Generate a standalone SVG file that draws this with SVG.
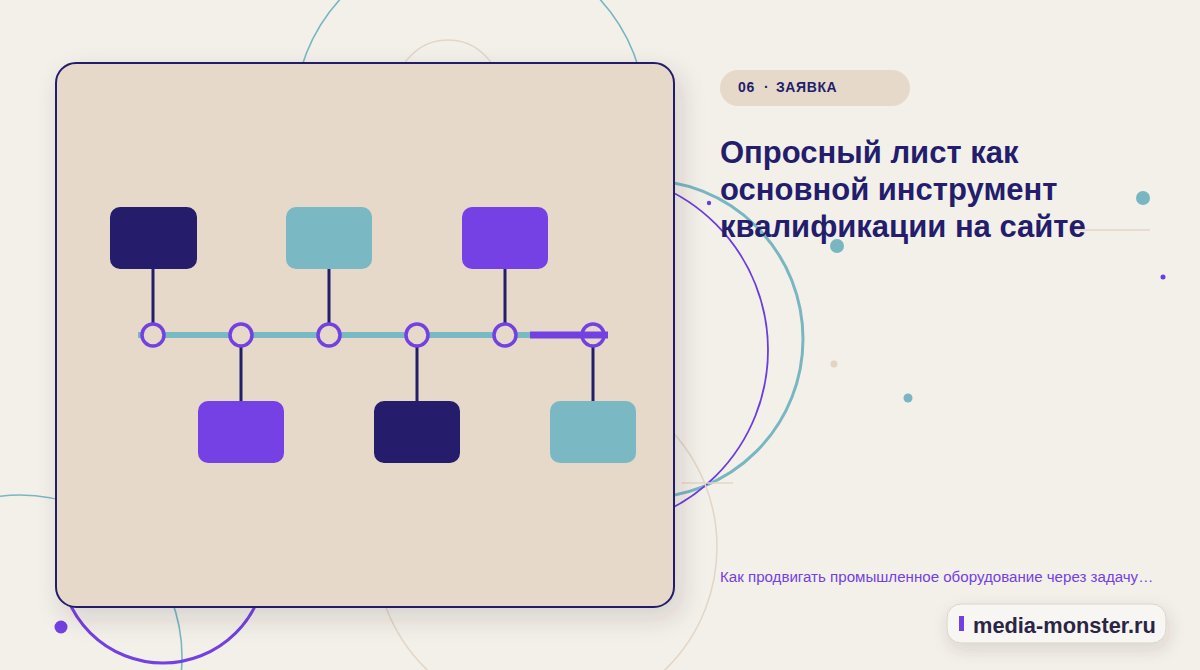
<svg xmlns="http://www.w3.org/2000/svg" width="1200" height="670" viewBox="0 0 1200 670">
  <defs>
    <filter id="cardShadow" x="-10%" y="-10%" width="130%" height="130%">
      <feDropShadow dx="6" dy="10" stdDeviation="12" flood-color="#3a3020" flood-opacity="0.16"/>
    </filter>
    <filter id="pillShadow" x="-20%" y="-40%" width="140%" height="200%">
      <feDropShadow dx="2" dy="6" stdDeviation="8" flood-color="#3a3020" flood-opacity="0.14"/>
    </filter>
    <style>
      .deco { fill: none; }
      .teal-thin { stroke: #78b7c2; stroke-width: 1.6; }
      .teal-thick { stroke: #78b7c2; stroke-width: 3; }
      .purple-thin { stroke: #6b3ce0; stroke-width: 1.8; }
      .purple-thick { stroke: #7340e2; stroke-width: 3; }
      .beige { stroke: #e3d6c6; stroke-width: 1.6; }
      .box { stroke: none; }
      .navy { fill: #251d6b; }
      .teal { fill: #7ab8c4; }
      .violet { fill: #7540e4; }
      .conn { stroke: #251d6b; stroke-width: 3; fill: none; }
      .ring { fill: #e6d9ca; stroke: #7340e2; stroke-width: 3.5; }
      .sans { font-family: "Liberation Sans", Arial, sans-serif; }
    </style>
  </defs>

  <rect width="1200" height="670" fill="#f3f0ea"/>

  <!-- decorative background -->
  <g id="decor">
    <circle class="deco teal-thin" cx="470" cy="118" r="176"/>
    <circle class="deco beige" cx="448" cy="92" r="52"/>
    <circle class="deco teal-thick" cx="644" cy="339" r="159"/>
    <circle class="deco purple-thin" cx="590" cy="350" r="178"/>
    <circle class="deco beige" cx="546" cy="547" r="171"/>
    <line class="beige" x1="682" y1="483" x2="733" y2="483" stroke-width="2"/>
    <line class="beige" x1="1072" y1="230" x2="1150" y2="230" stroke-width="2"/>
    <circle class="deco teal-thin" cx="20" cy="657" r="162"/>
    <circle class="deco purple-thick" cx="163" cy="560" r="103"/>
    <circle cx="709" cy="203" r="2.2" fill="#6b3ce0"/>
    <circle cx="1143" cy="198" r="7" fill="#78b7c2"/>
    <circle cx="837" cy="246" r="7" fill="#78b7c2"/>
    <circle cx="1163" cy="277" r="2.5" fill="#6b3ce0"/>
    <circle cx="834" cy="364" r="3.5" fill="#e3d3c0"/>
    <circle cx="908" cy="398" r="4.5" fill="#78b7c2"/>
    <circle cx="61" cy="627" r="6.5" fill="#7340e2"/>
  </g>

  <!-- card -->
  <g id="card">
    <rect x="56" y="63" width="618" height="544" rx="20" fill="#e6d9ca" stroke="#231d6b" stroke-width="2" filter="url(#cardShadow)"/>
  </g>

  <!-- connectors -->
  <g id="connectors">
    <line x1="138" y1="335" x2="530" y2="335" stroke="#7ab8c4" stroke-width="6"/>
    <line class="conn" x1="153" y1="269" x2="153" y2="323"/>
    <line class="conn" x1="329" y1="269" x2="329" y2="323"/>
    <line class="conn" x1="505" y1="269" x2="505" y2="323"/>
    <line class="conn" x1="241" y1="347" x2="241" y2="401"/>
    <line class="conn" x1="417" y1="347" x2="417" y2="401"/>
    <line class="conn" x1="593" y1="347" x2="593" y2="401"/>
  </g>

  <!-- timeline points -->
  <g id="point-1"><circle class="ring" cx="153" cy="335" r="11"/></g>
  <g id="point-2"><circle class="ring" cx="241" cy="335" r="11"/></g>
  <g id="point-3"><circle class="ring" cx="329" cy="335" r="11"/></g>
  <g id="point-4"><circle class="ring" cx="417" cy="335" r="11"/></g>
  <g id="point-5"><circle class="ring" cx="505" cy="335" r="11"/></g>
  <g id="point-6"><circle class="ring" cx="593" cy="335" r="11"/></g>
  <g id="progress">
    <line x1="530" y1="335" x2="608" y2="335" stroke="#7340e2" stroke-width="7"/>
  </g>

  <!-- boxes -->
  <g id="box-1"><rect class="box navy" x="110" y="207" width="87" height="62" rx="10"/></g>
  <g id="box-2"><rect class="box violet" x="198" y="401" width="86" height="62" rx="10"/></g>
  <g id="box-3"><rect class="box teal" x="286" y="207" width="86" height="62" rx="10"/></g>
  <g id="box-4"><rect class="box navy" x="374" y="401" width="86" height="62" rx="10"/></g>
  <g id="box-5"><rect class="box violet" x="462" y="207" width="86" height="62" rx="10"/></g>
  <g id="box-6"><rect class="box teal" x="550" y="401" width="86" height="62" rx="10"/></g>

  <!-- tag pill -->
  <g id="tag">
    <rect x="720" y="70" width="190" height="36" rx="18" fill="#e6d9ca"/>
    <text class="sans" y="92" font-size="14" font-weight="bold" fill="#231d6b" letter-spacing="0.6"><tspan x="738">06</tspan><tspan x="764">·</tspan><tspan x="776">ЗАЯВКА</tspan></text>
  </g>

  <!-- title -->
  <g id="title">
    <text class="sans" font-size="31" font-weight="bold" fill="#231d6b">
      <tspan x="720" y="163">Опросный лист как</tspan>
      <tspan x="720" y="200">основной инструмент</tspan>
      <tspan x="720" y="237">квалификации на сайте</tspan>
    </text>
  </g>

  <!-- subtitle -->
  <g id="subtitle">
    <text class="sans" x="720" y="582" font-size="15.1" fill="#7340e2">Как продвигать промышленное оборудование через задачу…</text>
  </g>

  <!-- domain pill -->
  <g id="domain">
    <rect x="947" y="604" width="219" height="39" rx="14" fill="#f8f6f2" stroke="#d9d2c8" stroke-width="1" filter="url(#pillShadow)"/>
    <rect x="959" y="616" width="5" height="15" fill="#7340e2"/>
    <text class="sans" x="973" y="633" font-size="21.8" font-weight="bold" fill="#2b2545">media-monster.ru</text>
  </g>
</svg>
